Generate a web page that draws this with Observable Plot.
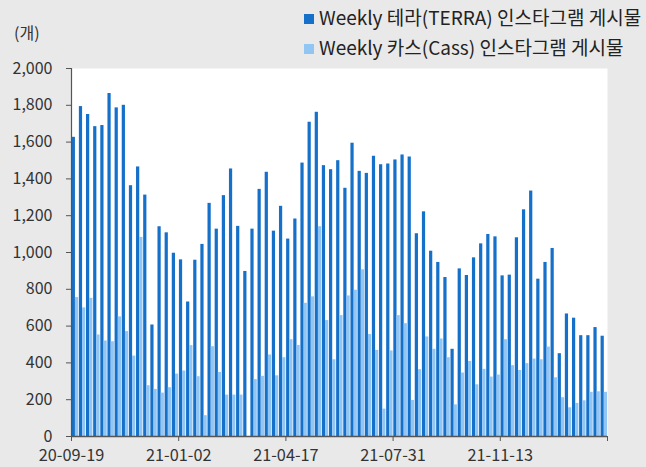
<!DOCTYPE html>
<html>
<head>
<meta charset="utf-8">
<script src="https://cdn.jsdelivr.net/npm/d3@7"></script>
<script src="https://cdn.jsdelivr.net/npm/@observablehq/plot@0.6"></script>
<style>
  html, body { margin: 0; padding: 0; background: #e9e9e9; }
  #wrap { position: relative; width: 646px; height: 467px; overflow: hidden; font-family: "Noto Sans CJK KR", "Noto Sans", sans-serif; color: #222; }
  #chart { position: absolute; left: 0; top: 0; }
  .unit { position: absolute; left: 14px; top: 22px; font-size: 16px; line-height: 20px; color: #333; }
  .legend { position: absolute; left: 304px; font-size: 19px; line-height: 24px; white-space: nowrap; transform-origin: left center; }
  .legend .sw { display: inline-block; width: 10px; height: 10px; margin-right: 5px; vertical-align: 1px; }
</style>
</head>
<body>
<div id="wrap">
  <div id="chart"></div>
  <div class="unit">(개)</div>
  <div class="legend" id="lg1" style="top:5px;"><span class="sw" style="background:#1570c9"></span>Weekly 테라(TERRA) 인스타그램 게시물</div>
  <div class="legend" id="lg2" style="top:35px;"><span class="sw" style="background:#91c5f4"></span>Weekly 카스(Cass) 인스타그램 게시물</div>
</div>
<script>
// Weekly Instagram post counts, week index 0 = 20-09-19
const terra = [1626,1793,1750,1684,1690,1864,1786,1800,1363,1465,
               1312,606,1140,1107,996,960,731,958,1044,1267,
               1127,1309,1454,1142,897,1127,1343,1436,1116,1251,
               1073,1182,1486,1708,1762,1472,1450,1499,1349,1594,
               1441,1430,1523,1477,1481,1503,1530,1519,1102,1221,
               1007,946,864,474,911,875,971,1047,1098,1085,
               873,877,1080,1232,1334,855,946,1022,450,666,
               643,548,548,592,545];
const cass = [755,699,751,552,519,515,650,570,437,1082,
              276,256,236,265,339,356,494,325,113,488,
              348,225,225,225,0,309,327,443,330,428,
              526,495,724,759,1140,630,417,657,764,795,
              906,554,468,149,465,657,613,196,363,541,
              474,530,428,172,345,408,281,365,323,334,
              526,385,359,396,421,417,486,319,211,156,
              180,194,240,243,240];
const tickWeeks = [0, 15, 30, 45, 60, 75];
const tickLabels = ["20-09-19", "21-01-02", "21-04-17", "21-07-31", "21-11-13", ""];
const yTicks = [0,200,400,600,800,1000,1200,1400,1600,1800,2000];

const rows = terra.map((v, i) => ({i, terra: v, cass: cass[i]}));

const chart = Plot.plot({
  width: 646,
  height: 467,
  marginLeft: 71,
  marginRight: 39,
  marginTop: 68,
  marginBottom: 31,
  style: {background: "transparent", fontFamily: "'Noto Sans CJK KR', 'Noto Sans', sans-serif", fontSize: "16px", color: "#333"},
  x: {type: "linear", domain: [0, terra.length]},
  y: {domain: [0, 2000]},
  marks: [
    Plot.frame({fill: "white", stroke: null}),
    Plot.rectY(rows, {x1: d => d.i + 0.1, x2: d => d.i + 0.55, y: "terra", fill: "#1570c9"}),
    Plot.rectY(rows, {x1: d => d.i + 0.55, x2: d => d.i + 1.0, y: "cass", fill: "#91c5f4"}),
    Plot.axisY({ticks: yTicks, tickFormat: d3.format(","), tickSize: 5, tickPadding: 14, fontSize: 16, label: null, stroke: "#555", fill: "#333"}),
    Plot.axisX({ticks: tickWeeks, tickFormat: (d, k) => tickLabels[k], tickSize: 5, tickPadding: 8, fontSize: 16.3, label: null, stroke: "#555", fill: "#333"}),
    Plot.ruleX([0], {stroke: "#555", strokeWidth: 1.2}),
    Plot.ruleY([0], {stroke: "#555", strokeWidth: 1.5})
  ]
});
document.getElementById("chart").appendChild(chart);
</script>
</body>
</html>
